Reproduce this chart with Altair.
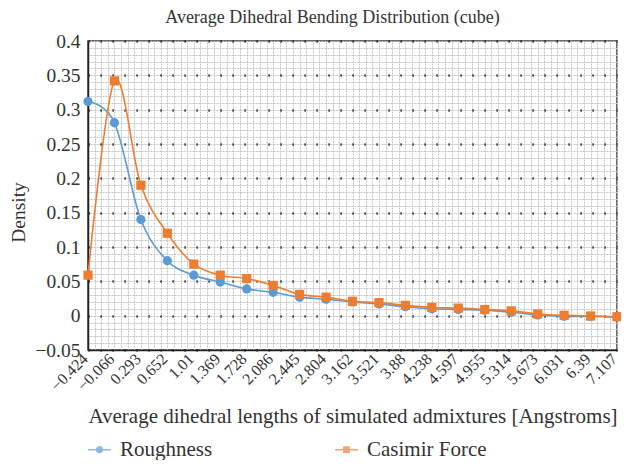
import altair as alt
import pandas as pd

# ---------------- data ----------------
x_labels = ["\u22120.424", "\u22120.066", "0.293", "0.652", "1.01", "1.369", "1.728",
            "2.086", "2.445", "2.804", "3.162", "3.521", "3.88", "4.238", "4.597",
            "4.955", "5.314", "5.673", "6.031", "6.39", "7.107"]
series_names = ["Roughness", "Casimir Force"]
roughness = [0.312, 0.281, 0.140, 0.080, 0.059, 0.049, 0.039, 0.034, 0.027, 0.024,
             0.020, 0.017, 0.013, 0.010, 0.009, 0.008, 0.005, 0.001, -0.001, -0.001, -0.002]
casimir = [0.059, 0.342, 0.190, 0.120, 0.075, 0.059, 0.054, 0.044, 0.031, 0.027,
           0.021, 0.019, 0.015, 0.012, 0.011, 0.009, 0.007, 0.0025, 0.0005, -0.0005, -0.0015]
colors = ["#5B9BD5", "#ED7D31"]
y_major = [-0.05, 0, 0.05, 0.1, 0.15, 0.2, 0.25, 0.3, 0.35, 0.4]

rows = []
for s, vals in zip(series_names, [roughness, casimir]):
    for i, (lab, v) in enumerate(zip(x_labels, vals)):
        rows.append({"idx": i, "label": lab, "value": v, "series": s})
df = pd.DataFrame(rows)

FONT = "Liberation Serif"
TXT = "#333333"
n = len(x_labels)
label_expr = "[" + ",".join("'" + l + "'" for l in x_labels) + "][datum.value]"
y_minor = [round(-0.05 + 0.01 * k, 2) for k in range(46)]
x_minor = [k * 0.25 for k in range(4 * (n - 1) + 1)]

x_scale = alt.Scale(domain=[0, n - 1], nice=False, zero=False)
y_scale = alt.Scale(domain=[-0.05, 0.4], nice=False, zero=False)

x_main = alt.X("idx:Q", scale=x_scale, axis=alt.Axis(
    orient="bottom", values=list(range(n)), labelExpr=label_expr,
    labelAngle=-45, labelAlign="right", labelBaseline="middle", labelPadding=6,
    labelOffset=-3, labelFont=FONT, labelFontSize=16, labelColor=TXT, labelOverlap=False,
    grid=False, ticks=False, domain=True, domainColor="#222222", domainWidth=1.5,
    title="Average dihedral lengths of simulated admixtures [Angstroms]",
    titleFont=FONT, titleFontSize=21, titleFontWeight="normal", titleColor=TXT,
    titleBaseline="middle", titleY=66))
y_main = alt.Y("value:Q", scale=y_scale, axis=alt.Axis(
    orient="left", values=y_major, format="~g",
    labelFont=FONT, labelFontSize=19.5, labelColor=TXT, labelPadding=8,
    grid=True, gridColor="#111111", gridDash=[1.2, 10.8], gridWidth=2.5,
    ticks=False, domain=True, domainColor="#222222", domainWidth=1.5,
    title="Density", titleFont=FONT, titleFontSize=19.5, titleFontWeight="normal",
    titleColor=TXT, titleAngle=-90, titleAlign="center", titleBaseline="middle",
    titleX=-70, titleY=171))

x_grid = alt.X("idx:Q", scale=x_scale, axis=alt.Axis(
    orient="top", values=x_minor, grid=True, gridColor="#c4c4c4", gridDash=[2, 1],
    gridWidth=1, labels=False, ticks=False, domain=False, title=None))
y_grid = alt.Y("value:Q", scale=y_scale, axis=alt.Axis(
    orient="right", values=y_minor, grid=True, gridColor="#c4c4c4", gridDash=[2, 1],
    gridWidth=1, labels=False, ticks=False, domain=False, title=None))

base = alt.Chart(df)

grid_layer = base.transform_filter("datum.idx < 0").mark_point().encode(x=x_grid, y=y_grid)

layers = []
for s, c, shp in zip(series_names, colors, ["circle", "square"]):
    sub = base.transform_filter(alt.datum.series == s)
    layers.append(sub.mark_line(color=c, strokeWidth=1.6, interpolate="cardinal").encode(x=x_main, y=y_main))
    layers.append(sub.mark_point(shape=shp, filled=True, opacity=1, size=85, color=c).encode(x=x_main, y=y_main))

paths = [
    "M-1,-0.065H1V0.065H-1Z M-0.32,0A0.32,0.32 0 1,1 0.32,0A0.32,0.32 0 1,1 -0.32,0Z",
    "M-1,-0.065H1V0.065H-1Z M-0.3,-0.3H0.3V0.3H-0.3Z",
]
leg = dict(orient="none", legendX=0, legendY=397, direction="horizontal", title=None,
           symbolSize=520, symbolStrokeWidth=0, labelFont=FONT, labelFontSize=21,
           labelColor=TXT, labelOffset=9, columnPadding=122)
legend_layer = base.transform_filter("datum.idx < 0").mark_point(filled=True).encode(
    x=x_main, y=y_main,
    shape=alt.Shape("series:N", scale=alt.Scale(domain=series_names, range=paths),
                    legend=alt.Legend(**leg)),
    color=alt.Color("series:N", scale=alt.Scale(domain=series_names, range=colors),
                    legend=alt.Legend(**leg)),
)
layers.append(legend_layer)

main_layer = alt.layer(*layers)

chart = alt.layer(grid_layer, main_layer).resolve_axis(x="independent", y="independent").properties(
    width=529, height=309,
    title=alt.Title("Average Dihedral Bending Distribution (cube)", font=FONT, fontSize=18,
                    fontWeight="normal", color=TXT, anchor="middle", dx=-20, offset=4),
    autosize="none",
    padding={"left": 80, "top": 33, "right": 4, "bottom": 110},
).configure_view(stroke="#3c3c3c", strokeWidth=1.5)

chart.save("out.html", embed_options={"renderer": "svg", "actions": False})
